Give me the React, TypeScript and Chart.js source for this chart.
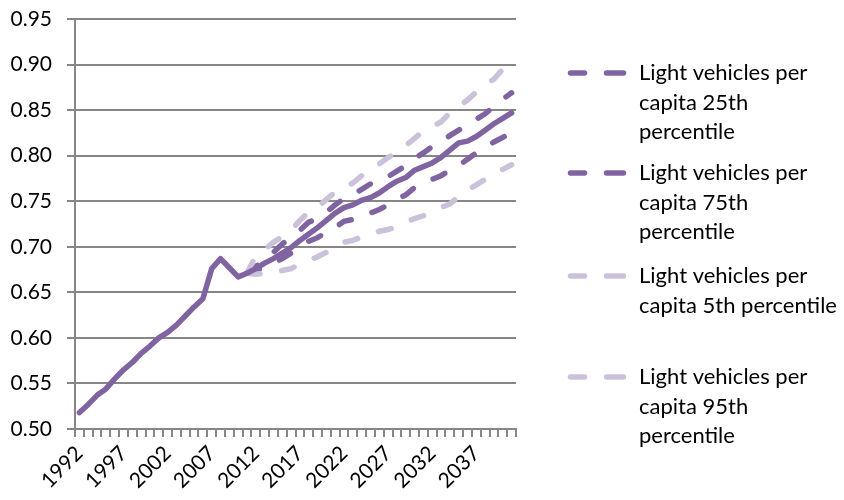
import { useEffect, useRef } from "react";
import { Chart, registerables, type ChartConfiguration, type Plugin } from "chart.js";

Chart.register(...registerables);

const FONT_FAMILY = "Lato, 'Open Sans', sans-serif";
const DARK = "#8064A2";
const LIGHT = "#CCC1DA";
const GRID = "#868686";

// 1992 .. 2041
const years = Array.from({ length: 50 }, (_, i) => String(1992 + i));
const shownYears = ["1992", "1997", "2002", "2007", "2012", "2017", "2022", "2027", "2032", "2037"];
const yTicks = [0.5, 0.55, 0.6, 0.65, 0.7, 0.75, 0.8, 0.85, 0.9, 0.95];

// history + central projection, 1992..2041
const lightVehiclesPerCapita = [
  0.518, 0.527, 0.537, 0.544, 0.555, 0.565, 0.573, 0.583, 0.591, 0.600,
  0.606, 0.614, 0.624, 0.634, 0.643, 0.676, 0.687, 0.677, 0.667, 0.671,
  0.676, 0.682, 0.687, 0.693, 0.699, 0.707, 0.714, 0.721, 0.729, 0.737,
  0.743, 0.746, 0.751, 0.754, 0.759, 0.766, 0.772, 0.776, 0.784, 0.788,
  0.792, 0.798, 0.806, 0.814, 0.816, 0.821, 0.828, 0.835, 0.841, 0.847
];

// percentile projections, 2011..2041
const pct25 = [
  0.671, 0.674, 0.678, 0.682, 0.687, 0.693, 0.699, 0.706, 0.710, 0.716,
  0.721, 0.728, 0.730, 0.733, 0.737, 0.741, 0.746, 0.752, 0.757, 0.765,
  0.769, 0.774, 0.778, 0.784, 0.789, 0.796, 0.803, 0.809, 0.815, 0.820,
  0.826
];
const pct75 = [
  0.671, 0.678, 0.686, 0.694, 0.703, 0.711, 0.718, 0.727, 0.731, 0.738,
  0.746, 0.753, 0.757, 0.763, 0.769, 0.772, 0.777, 0.783, 0.789, 0.797,
  0.803, 0.810, 0.815, 0.822, 0.828, 0.834, 0.840, 0.846, 0.854, 0.862,
  0.869
];
const pct5 = [
  0.671, 0.670, 0.671, 0.672, 0.674, 0.676, 0.681, 0.685, 0.689, 0.694,
  0.700, 0.705, 0.707, 0.711, 0.714, 0.717, 0.719, 0.722, 0.727, 0.731,
  0.734, 0.739, 0.743, 0.747, 0.755, 0.762, 0.768, 0.774, 0.779, 0.785,
  0.790
];
const pct95 = [
  0.671, 0.690, 0.697, 0.705, 0.711, 0.718, 0.729, 0.738, 0.743, 0.752,
  0.760, 0.764, 0.770, 0.778, 0.785, 0.791, 0.798, 0.804, 0.811, 0.819,
  0.827, 0.832, 0.837, 0.847, 0.854, 0.861, 0.870, 0.878, 0.884, 0.895,
  0.905
];

const projectionStart = years.indexOf("2011");

const legendEntries = [
  { lines: ["Light vehicles per", "capita 25th", "percentile"], color: DARK, data: pct25 },
  { lines: ["Light vehicles per", "capita 75th", "percentile"], color: DARK, data: pct75 },
  { lines: ["Light vehicles per", "capita 5th percentile"], color: LIGHT, data: pct5 },
  { lines: ["Light vehicles per", "capita 95th", "percentile"], color: LIGHT, data: pct95 }
];
const legendRows = [73, 173, 276, 377];

function padProjection(values: number[]) {
  return [...Array(projectionStart).fill(null), ...values];
}

const sideLegend: Plugin<"line"> = {
  id: "sideLegend",
  afterDraw(chart) {
    const { ctx } = chart;
    ctx.save();
    legendEntries.forEach((entry, i) => {
      const y = legendRows[i];
      ctx.strokeStyle = entry.color;
      ctx.lineWidth = 5.5;
      ctx.lineCap = "round";
      ctx.beginPath();
      ctx.moveTo(570.5, y);
      ctx.lineTo(584.5, y);
      ctx.moveTo(606.5, y);
      ctx.lineTo(623.5, y);
      ctx.stroke();
      ctx.fillStyle = "#000";
      ctx.font = `22px ${FONT_FAMILY}`;
      ctx.textBaseline = "middle";
      entry.lines.forEach((line, j) => ctx.fillText(line, 639, y + j * 29.7));
    });
    ctx.restore();
  }
};

export default function App() {
  const canvasRef = useRef<HTMLCanvasElement | null>(null);

  useEffect(() => {
    const canvas = canvasRef.current;
    if (!canvas) return;

    const dashed = legendEntries.map((entry, i) => ({
      label: entry.lines.join(" "),
      data: padProjection(entry.data),
      borderColor: entry.color,
      backgroundColor: entry.color,
      borderWidth: 5.5,
      borderDash: [13, 22],
      borderCapStyle: "round" as const,
      pointRadius: 0,
      tension: 0,
      spanGaps: false,
      order: 4 - i
    }));

    const config: ChartConfiguration<"line"> = {
      type: "line",
      data: {
        labels: years,
        datasets: [
          {
            label: "Light vehicles per capita",
            data: lightVehiclesPerCapita,
            borderColor: DARK,
            backgroundColor: DARK,
            borderWidth: 5.5,
            borderCapStyle: "round",
            borderJoinStyle: "round",
            pointRadius: 0,
            tension: 0,
            order: 0
          },
          ...dashed
        ]
      },
      options: {
        animation: false,
        responsive: true,
        maintainAspectRatio: false,
        layout: { autoPadding: false, padding: { top: 19, right: 328, left: 0, bottom: 0 } },
        plugins: {
          legend: { display: false },
          tooltip: { enabled: false }
        },
        scales: {
          x: {
            type: "category",
            offset: true,
            afterFit: (scale) => {
              scale.height = 71;
            },
            grid: {
              offset: true,
              drawOnChartArea: false,
              drawTicks: true,
              tickLength: 8,
              color: GRID,
              lineWidth: 2
            },
            border: { display: true, color: GRID, width: 2 },
            ticks: {
              autoSkip: false,
              maxRotation: 45,
              minRotation: 45,
              padding: 4,
              color: "#000",
              font: { family: FONT_FAMILY, size: 21 },
              callback: (_v, index) => (shownYears.includes(years[index]) ? years[index] : "")
            }
          },
          y: {
            min: yTicks[0],
            max: yTicks[yTicks.length - 1],
            afterFit: (scale) => {
              // fixed axis width; the big label gap must not push the plot down
              scale.width = 75;
              scale.paddingTop = 0;
              scale.paddingBottom = 0;
            },
            afterBuildTicks: (scale) => {
              scale.ticks = yTicks.map((value) => ({ value }));
            },
            grid: {
              color: GRID,
              lineWidth: 2,
              drawTicks: true,
              tickLength: 8
            },
            border: { display: true, color: GRID, width: 2 },
            ticks: {
              padding: 15,
              color: "#000",
              font: { family: FONT_FAMILY, size: 21 },
              callback: (value) => Number(value).toFixed(2)
            }
          }
        }
      },
      plugins: [sideLegend]
    };

    const chart = new Chart(canvas, config);
    return () => chart.destroy();
  }, []);

  return (
    <div style={{ position: "fixed", left: 0, top: 0, width: 844, height: 500, background: "#fff" }}>
      <canvas ref={canvasRef} />
    </div>
  );
}
